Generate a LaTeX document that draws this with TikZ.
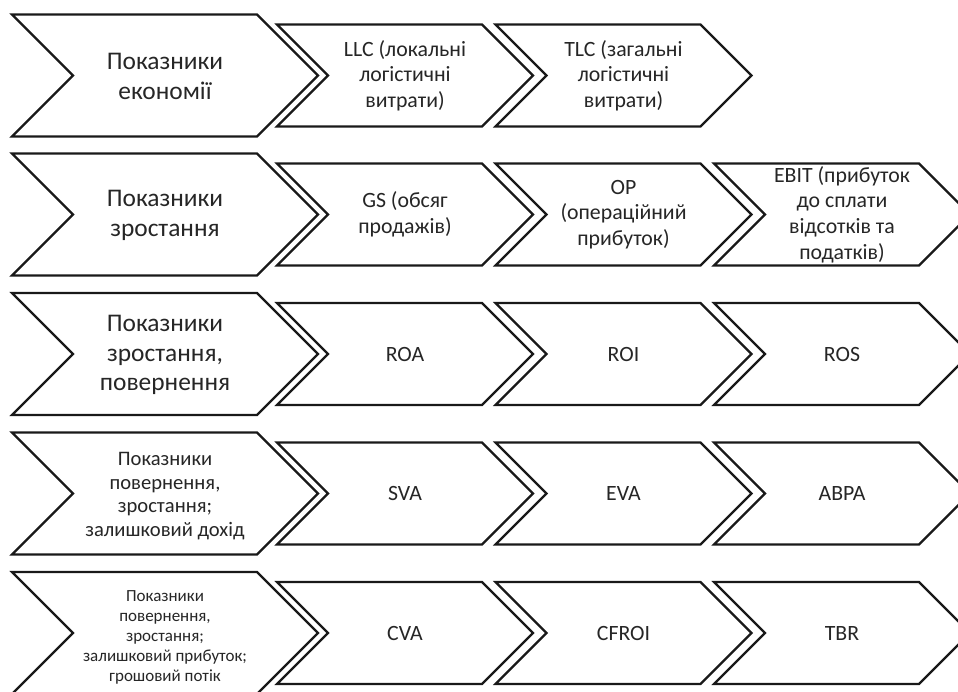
\documentclass[tikz,border=0pt]{standalone}
\usepackage{fontspec}
\setmainfont{Carlito}
\tikzset{
  chev/.style={draw=black!90, line width=2.2pt, fill=white, line join=miter},
  bigtxt/.style={align=center, text=black!85, font=\fontsize{25.4}{29.8}\selectfont},
  midtxt/.style={align=center, text=black!85, font=\fontsize{20.6}{23.8}\selectfont},
  smalltxt/.style={align=center, text=black!85, font=\fontsize{17}{20}\selectfont},
  celltxt/.style={align=center, text=black!85, font=\fontsize{21.8}{25.6}\selectfont},
}
\newcommand\chevpath[4]{% left x, centre y, total width, half height
  \draw[chev] (#1,#2-#4) -- (#1+#3-#4,#2-#4) -- (#1+#3,#2) -- (#1+#3-#4,#2+#4)
    -- (#1,#2+#4) -- (#1+#4,#2) -- cycle;}
\newcommand\bigchev[1]{\chevpath{12}{#1}{306}{61}}
\newcommand\smallrow[1]{%
  \chevpath{277}{#1}{256}{51}%
  \chevpath{495.5}{#1}{256}{51}%
  \chevpath{714}{#1}{256}{51}}
\begin{document}
\begin{tikzpicture}[x=1pt,y=-1pt]
\useasboundingbox (0,0) rectangle (958,691);
\clip (0,0) rectangle (958,691);
\fill[white] (0,0) rectangle (958,691);
% row 1
\bigchev{75.5}
\chevpath{277}{75.5}{256}{51}
\chevpath{495.5}{75.5}{256}{51}
\node[bigtxt] (b1) at (165,76.5) {Показники\\економії};
\node[celltxt] (c11) at (405,75.5) {LLC (локальні\\логістичні\\витрати)};
\node[celltxt] (c12) at (623.5,75.5) {TLC (загальні\\логістичні\\витрати)};
% row 2
\bigchev{214.5}
\smallrow{214.5}
\node[bigtxt] (b2) at (165,215.5) {Показники\\зростання};
\node[celltxt] (c21) at (405,214.5) {GS (обсяг\\продажів)};
\node[celltxt] (c22) at (623.5,214.5) {OP\\(операційний\\прибуток)};
\node[celltxt] (c23) at (842,214.5) {EBIT (прибуток\\до сплати\\відсотків та\\податків)};
% row 3
\bigchev{354}
\smallrow{354}
\node[bigtxt] (b3) at (165,355) {Показники\\зростання,\\повернення};
\node[celltxt] (c31) at (405,354) {ROA};
\node[celltxt] (c32) at (623.5,354) {ROI};
\node[celltxt] (c33) at (842,354) {ROS};
% row 4
\bigchev{493.5}
\smallrow{493.5}
\node[midtxt] (b4) at (165,496) {Показники\\повернення,\\зростання;\\залишковий дохід};
\node[celltxt] (c41) at (405,493.5) {SVA};
\node[celltxt] (c42) at (623.5,493.5) {EVA};
\node[celltxt] (c43) at (842,493.5) {ABPA};
% row 5
\bigchev{633}
\smallrow{633}
\node[smalltxt] (b5) at (165,637) {Показники\\повернення,\\зростання;\\залишковий прибуток;\\грошовий потік};
\node[celltxt] (c51) at (405,633) {CVA};
\node[celltxt] (c52) at (623.5,633) {CFROI};
\node[celltxt] (c53) at (842,633) {TBR};
\end{tikzpicture}
\end{document}
